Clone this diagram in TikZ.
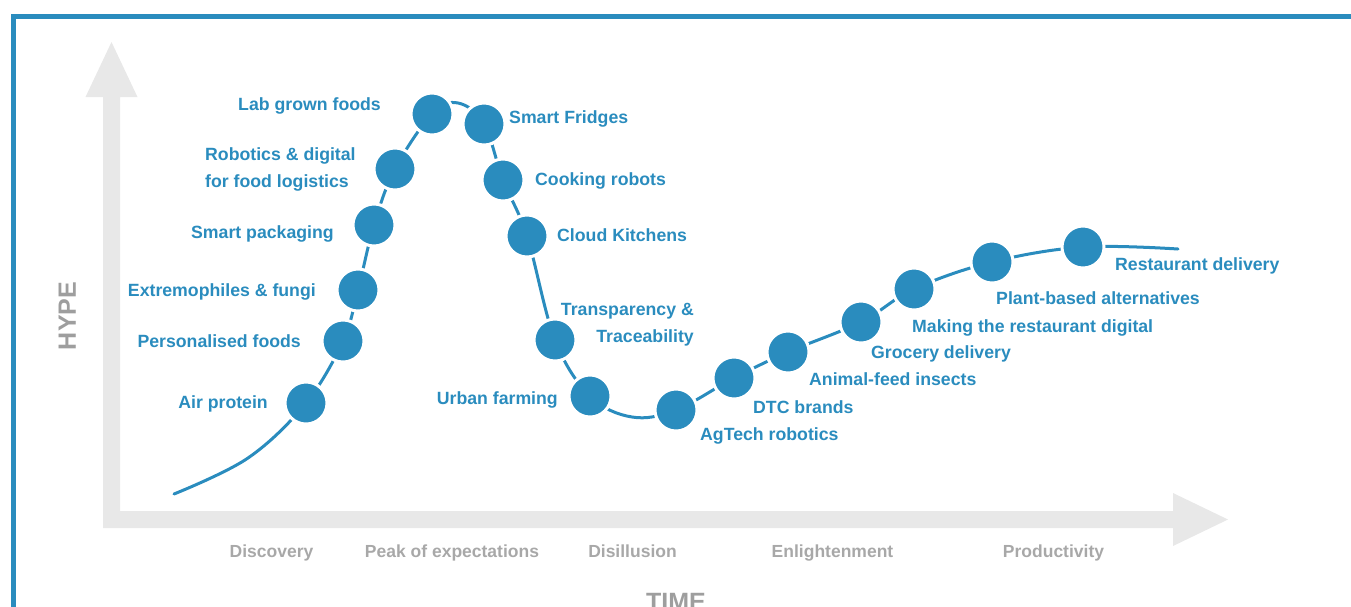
\documentclass[tikz,border=0pt]{standalone}
\usepackage{fontspec}
\setmainfont{Liberation Sans}
\usetikzlibrary{backgrounds}

\definecolor{hypeblue}{RGB}{42,140,190}
\definecolor{axisgrey}{RGB}{232,232,232}
\definecolor{phasegrey}{RGB}{168,168,168}
\definecolor{titlegrey}{RGB}{158,158,158}

\begin{document}
\begin{tikzpicture}[
        x=1pt, y=-1pt,
        tech/.style={circle, fill=hypeblue, draw=white, line width=3pt, minimum size=42pt, inner sep=0pt},
        tag/.style={text=hypeblue, font=\fontsize{17.7pt}{27pt}\selectfont\bfseries, inner sep=0pt, text height=12.7pt, text depth=0pt},
        tagtwo/.style={text=hypeblue, font=\fontsize{17.7pt}{27pt}\selectfont\bfseries, inner sep=0pt},
        phase/.style={text=phasegrey, font=\fontsize{17.5pt}{21pt}\selectfont\bfseries, inner sep=0pt, text height=12.6pt, text depth=0pt},
        axislabel/.style={text=titlegrey, font=\fontsize{25pt}{30pt}\selectfont\bfseries, inner sep=0pt, text height=17.9pt, text depth=0pt},
        hype/.style={draw=hypeblue, line width=3pt, line cap=round}
    ]
    \useasboundingbox (0,0) rectangle (1351,606);

    % Frame
    \draw[hypeblue, line width=5pt] (13.5,700) -- (13.5,16.5) -- (1400,16.5);

    % Axes (one filled shape with both heads)
    \fill[axisgrey] (103,528) -- (103,97) -- (85.5,97) -- (111.5,42) -- (137.5,97) -- (120,97)
        -- (120,511) -- (1173,511) -- (1173,493) -- (1228,519.5) -- (1173,546) -- (1173,528) -- cycle;

    % Axis titles
    \node[axislabel, rotate=90] (hypetitle) at (67,316) {HYPE};
    \node[axislabel] (timetitle) at (676,602) {TIME};

    % Phases
    \node[phase] (discovery) at (271.5,551) {Discovery};
    \node[phase] (peak) at (452,551) {Peak of expectations};
    \node[phase] (disillusion) at (632.5,551) {Disillusion};
    \node[phase] (enlight) at (832.5,551) {Enlightenment};
    \node[phase] (product) at (1053.5,551) {Productivity};

    % Rising side
    \node[tech] (air) at (306,403) {};
    \node[tech] (personal) at (343,341) {};
    \node[tech] (extremo) at (358,290) {};
    \node[tech] (packaging) at (374,225) {};
    \node[tech] (logistics) at (395,169) {};
    \node[tech] (labgrown) at (432,114) {};

    % Falling side
    \node[tech] (fridges) at (484,124) {};
    \node[tech] (cooking) at (503,180) {};
    \node[tech] (kitchens) at (527,236) {};
    \node[tech] (transp) at (555,340) {};
    \node[tech] (urban) at (590,396) {};

    % Slope of enlightenment
    \node[tech] (agtech) at (676,410) {};
    \node[tech] (dtc) at (734,378) {};
    \node[tech] (insects) at (788,352) {};
    \node[tech] (grocery) at (861,322) {};
    \node[tech] (digital) at (914,289) {};
    \node[tech] (plant) at (992,262) {};
    \node[tech] (delivery) at (1083,247) {};

    % Extra points of the curve
    \coordinate (start) at (174,494);
    \coordinate (rise) at (248,458);
    \coordinate (top) at (458,103);
    \coordinate (dip) at (632,417);
    \coordinate (finish) at (1178,249);

    % The hype curve, behind the dots
    \begin{scope}[on background layer]
        \draw[hype] plot[smooth, tension=0.6] coordinates {(start) (rise) (air.center) (personal.center)
            (extremo.center) (packaging.center) (logistics.center) (labgrown.center) (top)
            (fridges.center) (cooking.center) (kitchens.center) (transp.center) (urban.center) (dip)
            (agtech.center) (dtc.center) (insects.center) (grocery.center) (digital.center)
            (plant.center) (delivery.center) (finish)};
    \end{scope}

    % Labels, left of the dots
    \node[tag, anchor=east] (airtag) at (268,402) {Air protein};
    \node[tag, anchor=east] (personaltag) at (301,341) {Personalised foods};
    \node[tag, anchor=east] (extremotag) at (316,290) {Extremophiles \& fungi};
    \node[tag, anchor=east] (packagingtag) at (334,232) {Smart packaging};
    \node[tagtwo, anchor=west, align=left] (logisticstag) at (205,169) {Robotics \& digital\\for food logistics};
    \node[tag, anchor=east] (labgrowntag) at (381,104) {Lab grown foods};
    \node[tag, anchor=east] (urbantag) at (558,398) {Urban farming};

    % Labels, right of the dots
    \node[tag, anchor=west] (fridgestag) at (509,117) {Smart Fridges};
    \node[tag, anchor=west] (cookingtag) at (535,179) {Cooking robots};
    \node[tag, anchor=west] (kitchenstag) at (557,235) {Cloud Kitchens};
    \node[tagtwo, anchor=east, align=right] (transptag) at (694,325) {Transparency \&\\Traceability};
    \node[tag, anchor=west] (agtechtag) at (700,434) {AgTech robotics};
    \node[tag, anchor=west] (dtctag) at (753,407) {DTC brands};
    \node[tag, anchor=west] (insectstag) at (809,379) {Animal-feed insects};
    \node[tag, anchor=west] (grocerytag) at (871,352) {Grocery delivery};
    \node[tag, anchor=west] (digitaltag) at (912,326) {Making the restaurant digital};
    \node[tag, anchor=west] (planttag) at (996,298) {Plant-based alternatives};
    \node[tag, anchor=west] (deliverytag) at (1115,264) {Restaurant delivery};

\end{tikzpicture}
\end{document}
